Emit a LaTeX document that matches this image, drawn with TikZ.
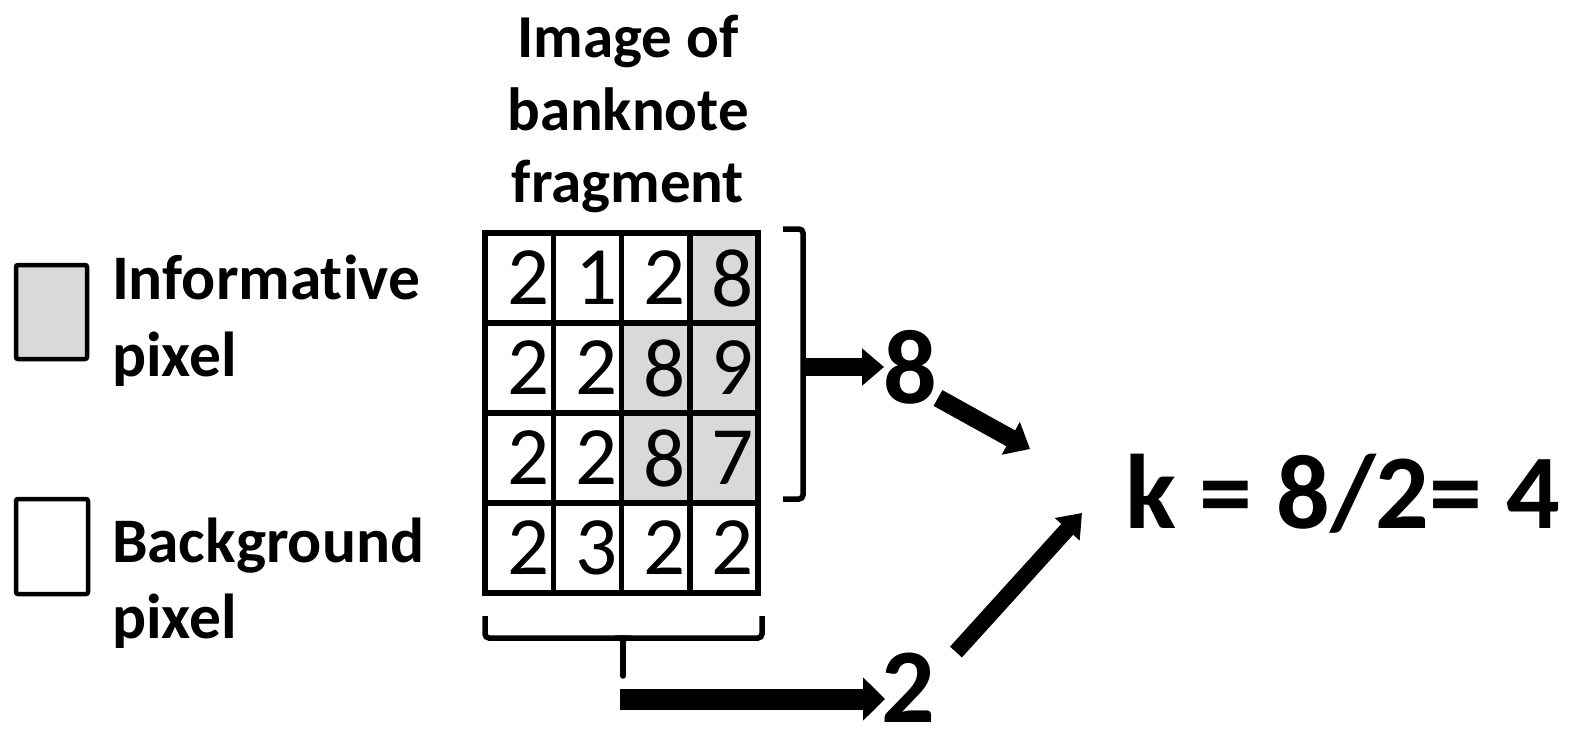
\documentclass[tikz,border=0pt]{standalone}
\usepackage{fontspec}
\setmainfont{Carlito}[Ligatures=NoCommon]
\usetikzlibrary{arrows.meta}
\definecolor{infogray}{HTML}{D9D9D9}

\begin{document}
\begin{tikzpicture}[x=1pt,y=-1pt,
  every node/.style={inner sep=0pt, outer sep=0pt},
  cell/.style={draw, line width=5.5pt, minimum width=68.25pt, minimum height=90pt,
    text width=60pt, align=right, font=\fontsize{83pt}{83pt}\selectfont},
  info/.style={cell, fill=infogray},
  legendbox/.style={draw, line width=4.5pt, rounded corners=2pt},
  lbl/.style={anchor=base west, font=\bfseries\fontsize{63.5pt}{63.5pt}\selectfont},
  ttl/.style={anchor=base, font=\bfseries\fontsize{61pt}{61pt}\selectfont},
  big/.style={anchor=base, font=\bfseries\fontsize{106pt}{106pt}\selectfont},
  bracket/.style={draw, line width=5.5pt, rounded corners=4pt},
  blockarrow/.style={line width=#1, -{Triangle[width=2*#1, length=22pt]}},
  arrowshadow/.style={black, opacity=0.22, shift={(3,3)}}
]
\useasboundingbox (0,0) rectangle (1571,728);

% legend
\node[legendbox, fill=infogray, minimum width=71pt, minimum height=94pt] (lgInfo) at (51.5,312) {};
\node[legendbox, fill=white, minimum width=72pt, minimum height=95pt] (lgBack) at (52,546.5) {};
\node[lbl] (lInfo1) at (112,299) {Informative};
\node[lbl] (lInfo2) at (112,376) {pixel};
\node[lbl] (lBack1) at (112,562) {Background};
\node[lbl] (lBack2) at (112,638) {pixel};

% title
\node[ttl] (ttl1) at (628,57) {Image of};
\node[ttl] (ttl2) at (628,130) {banknote};
\node[ttl] (ttl3) at (628,202) {fragment};

% pixel grid (4 rows x 4 columns)
\foreach \r/\a/\b/\c/\d/\sa/\sb/\sc/\sd in {
    1/2/1/2/8/cell/cell/cell/info,
    2/2/2/8/9/cell/cell/info/info,
    3/2/2/8/7/cell/cell/info/info,
    4/2/3/2/2/cell/cell/cell/cell} {
  \pgfmathsetmacro{\yc}{233+90*(\r-0.5)}
  \node[\sa] (c\r-1) at ({485+68.25*0.5},\yc) {\a};
  \node[\sb] (c\r-2) at ({485+68.25*1.5},\yc) {\b};
  \node[\sc] (c\r-3) at ({485+68.25*2.5},\yc) {\c};
  \node[\sd] (c\r-4) at ({485+68.25*3.5},\yc) {\d};
}

% bracket over the rows holding informative pixels
\draw[bracket] (783,229) -- (803,229) -- (803,499) -- (783,499);
\coordinate (rowNub) at (801,367);
% bracket under the columns, with its centre stem
\draw[bracket] (485,616) -- (485,638) -- (762,638) -- (762,616);
\draw[line width=5.5pt, line cap=round] (623,638) -- (623,676);
\fill (614,635.25) to[out=0,in=90] (620.25,645) -- (625.75,645) to[out=90,in=180] (632,635.25) -- cycle;
\coordinate (colNub) at (620,699);

% counts and result
\node[big] (eight) at (910,403) {8};
\node[big] (two) at (908,722) {2};
\node[anchor=base west, font=\bfseries\fontsize{106pt}{106pt}\selectfont] (kres) at (1125,528) {k = 8/2= 4};

\coordinate (eightTip) at (884,367);
\coordinate (twoTip) at (885,699);
\coordinate (eightOut) at (938,398);
\coordinate (kIn1) at (1030,449);
\coordinate (twoOut) at (956,652);
\coordinate (kIn2) at (1082,513);

% arrow shadows
\begin{scope}[arrowshadow]
  \draw[blockarrow=18pt] (rowNub) -- (eightTip);
  \draw[blockarrow=18pt] (eightOut) -- (kIn1);
  \draw[blockarrow=21pt] (colNub) -- (twoTip);
  \draw[blockarrow=16pt] (twoOut) -- (kIn2);
\end{scope}
% arrows
\draw[blockarrow=18pt] (rowNub) -- (eightTip);
\draw[blockarrow=18pt] (eightOut) -- (kIn1);
\draw[blockarrow=21pt] (colNub) -- (twoTip);
\draw[blockarrow=16pt] (twoOut) -- (kIn2);
\end{tikzpicture}
\end{document}
